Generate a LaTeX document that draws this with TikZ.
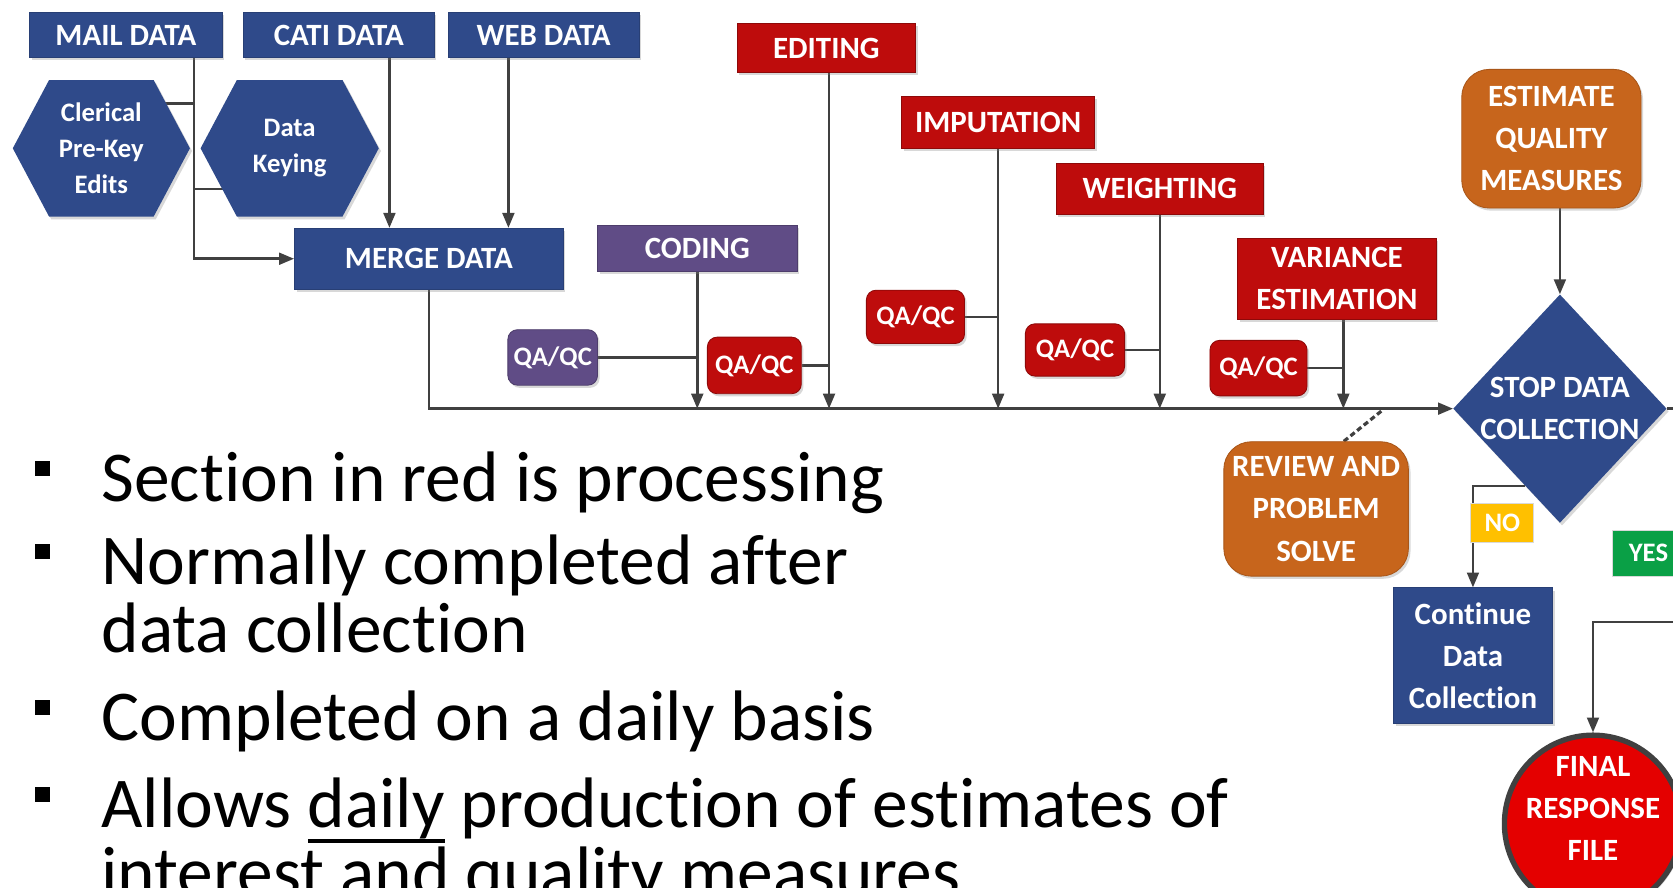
\documentclass[tikz,border=0pt]{standalone}
\usepackage{fontspec}
\setmainfont{Carlito}[Ligatures=NoCommon]
\usetikzlibrary{shapes.geometric,arrows.meta,shadows,calc}
\pgfdeclarelayer{background}
\pgfsetlayers{background,main}

\definecolor{cblue}{RGB}{47,74,138}
\definecolor{cred}{RGB}{190,12,12}
\definecolor{cpurple}{RGB}{96,76,134}
\definecolor{corange}{RGB}{199,101,28}
\definecolor{cyellow}{RGB}{255,192,0}
\definecolor{cgreen}{RGB}{10,160,70}
\definecolor{cfinal}{RGB}{228,0,0}
\definecolor{cline}{RGB}{64,64,64}

% underline with a rule scaled to the current font
\newcommand\ulword[1]{\setbox0\hbox{#1}\rlap{\rule[-0.21em]{\wd0}{0.06em}}\box0\relax}

\begin{document}
\begin{tikzpicture}[x=1pt,y=-1pt,
  lbl/.style={font=\bfseries\fontsize{29}{39.5}\selectfont,text=white,align=center,inner sep=0pt},
  smalllbl/.style={font=\bfseries\fontsize{25}{34}\selectfont,text=white,align=center,inner sep=0pt},
  shade/.style={drop shadow={opacity=0.3,shadow xshift=2pt,shadow yshift=-2.5pt}},
  bluebox/.style={lbl,rectangle,fill=cblue,draw=cblue!85!black,line width=0.8pt,shade},
  redbox/.style={lbl,rectangle,fill=cred,draw=cred!75!black,line width=0.8pt,shade},
  purplebox/.style={lbl,rectangle,fill=cpurple,draw=cpurple!80!black,line width=0.8pt,shade},
  orangebox/.style={lbl,rectangle,rounded corners=26pt,fill=corange,draw=corange!85!black,line width=0.8pt,shade},
  qared/.style={smalllbl,rectangle,rounded corners=9pt,fill=cred,draw=cred!75!black,line width=0.8pt,shade,minimum height=51pt},
  qapurple/.style={smalllbl,rectangle,rounded corners=9pt,fill=cpurple,draw=cpurple!80!black,line width=0.8pt,shade,minimum height=52pt},
  hexfill/.style={fill=cblue,shade},
  tagbox/.style={smalllbl,rectangle,draw=white!70!gray,line width=0.8pt},
  conn/.style={draw=cline,line width=2.4pt},
  arr/.style={conn,-{Triangle[length=14pt,width=11pt]}},
  bullettext/.style={font=\fontsize{67}{80}\selectfont,anchor=base west,inner sep=0pt},
  bulletsq/.style={rectangle,fill=black,minimum size=14pt,inner sep=0pt},
]
\clip (0,0) rectangle (1568,832);

% data sources
\node[bluebox,minimum width=180pt,minimum height=42pt] (mail) at (118,33) {MAIL DATA};
\node[bluebox,minimum width=179pt,minimum height=42pt] (cati) at (317.5,33) {CATI DATA};
\node[bluebox,minimum width=179pt,minimum height=42pt] (web) at (509.5,33) {WEB DATA};

% hexagons for mail handling
\fill[hexfill] (12,139) -- (46,75) -- (144,75) -- (178,139) -- (144,203) -- (46,203) -- cycle;
\node[smalllbl] (cler) at (95,139) {Clerical\\Pre-Key\\Edits};
\fill[hexfill] (188,139) -- (222,75) -- (321,75) -- (355,139) -- (321,203) -- (222,203) -- cycle;
\node[smalllbl] (key) at (271.5,138.5) {Data\\Keying};

\node[bluebox,minimum width=252pt,minimum height=57pt] (merge) at (402,242.5) {MERGE DATA};

% processing steps
\node[purplebox,minimum width=187pt,minimum height=43pt] (coding) at (653.5,232.5) {CODING};
\node[qapurple,minimum width=84pt] (qa1) at (518,335) {QA/QC};
\node[redbox,minimum width=167pt,minimum height=46pt] (editing) at (774.5,45) {EDITING};
\node[qared,minimum width=88pt,minimum height=53pt] (qa2) at (707,342.5) {QA/QC};
\node[redbox,minimum width=181pt,minimum height=49pt] (imput) at (935.5,114.5) {IMPUTATION};
\node[qared,minimum width=92pt,minimum height=50pt] (qa3) at (858,297) {QA/QC};
\node[redbox,minimum width=194pt,minimum height=48pt] (weight) at (1087,177) {WEIGHTING};
\node[qared,minimum width=93pt,minimum height=49pt] (qa4) at (1007.5,328) {QA/QC};
\node[redbox,minimum width=186pt,minimum height=76pt] (var) at (1253,261) {VARIANCE\\ESTIMATION};
\node[qared,minimum width=91pt,minimum height=52pt] (qa5) at (1179.5,345) {QA/QC};

% decision part
\node[orangebox,minimum width=168pt,minimum height=130pt] (est) at (1454,130) {ESTIMATE\\QUALITY\\MEASURES};
\node[diamond,fill=cblue,minimum width=200pt,minimum height=214pt,inner sep=0pt,shade] (stop) at (1462,383) {};
\node[lbl] (stoptext) at (stop) {STOP DATA\\COLLECTION};
\node[orangebox,minimum width=173pt,minimum height=126pt] (review) at (1233.5,477) {REVIEW AND\\PROBLEM\\SOLVE};
\node[bluebox,minimum width=149pt,minimum height=127pt] (cont) at (1380.5,614.5) {Continue\\Data\\Collection};
\node[circle,fill=cfinal,draw=cline,line width=5pt,minimum size=166pt,inner sep=0pt,shade] (final) at (1493,772) {};
\node[lbl] (finaltext) at ([yshift=14pt]final.center) {FINAL\\RESPONSE\\FILE};
\node[tagbox,fill=cyellow,minimum width=59pt,minimum height=37pt] (no) at (1408,490) {NO};
\node[tagbox,fill=cgreen,minimum width=68pt,minimum height=43pt] (yes) at (1545,518.5) {YES};

% white page and connectors, both behind the shapes
\begin{pgfonlayer}{background}
  \fill[white] (0,0) rectangle (1568,832);
  \coordinate (mtap) at ([xshift=64pt]mail.south);
  \coordinate (j1) at (182,97);
  \coordinate (j2) at (182,177);
  \draw[arr] (mtap) |- (merge.west);
  \draw[conn] (j1) -- (j1 -| cler);
  \draw[conn] (j2) -- (j2 -| key);
  \coordinate (ctap) at ([xshift=47.5pt]cati.south);
  \coordinate (wtap) at ([xshift=-33pt]web.south);
  \draw[arr] (ctap) -- (ctap |- merge.north);
  \draw[arr] (wtap) -- (wtap |- merge.north);
  \draw[arr] (merge.south) |- (stop.west);

  \draw[arr] (coding.south) -- (coding.south |- stop.west);
  \draw[conn] (qa1.east) -- (qa1.east -| coding.south);
  \coordinate (etap) at ([xshift=2.5pt]editing.south);
  \draw[arr] (etap) -- (etap |- stop.west);
  \draw[conn] (qa2.east) -- (qa2.east -| etap);
  \draw[arr] (imput.south) -- (imput.south |- stop.west);
  \draw[conn] (qa3.east) -- (qa3.east -| imput.south);
  \draw[arr] (weight.south) -- (weight.south |- stop.west);
  \draw[conn] (qa4.east) -- (qa4.east -| weight.south);
  \coordinate (vtap) at ([xshift=6pt]var.south);
  \draw[arr] (vtap) -- (vtap |- stop.west);
  \draw[conn] (qa5.east) -- (qa5.east -| vtap);

  \draw[arr] (stop.north |- est.south) -- (stop.north);
  \coordinate (rvlink) at (1295,385);
  \draw[draw=cline,line width=3pt,dash pattern=on 5pt off 3pt] ([xshift=26pt]review.north) -- (rvlink);

  \draw[arr] (stop.-114) -| (cont.north);
  \coordinate (yturn) at (1578,583);
  \draw[arr] (stop.east) -| (yturn) -| (final.north);
\end{pgfonlayer}

% bullet list
\node[bulletsq] (b1) at (40,439) {};
\node[bullettext] (t1) at (95,470) {Section in red is processing};
\node[bulletsq] (b2) at (40,517) {};
\node[bullettext] (t2) at (95,548) {Normally completed after};
\node[bullettext] (t3) at (95,612) {data collection};
\node[bulletsq] (b3) at (40,663) {};
\node[bullettext] (t4) at (95,694) {Completed on a daily basis};
\node[bulletsq] (b4) at (40,745) {};
\node[bullettext] (t5) at (95,776) {Allows \ulword{daily} production of estimates of};
\node[bullettext] (t6) at (95,840) {interest and quality measures};
\end{tikzpicture}
\end{document}
